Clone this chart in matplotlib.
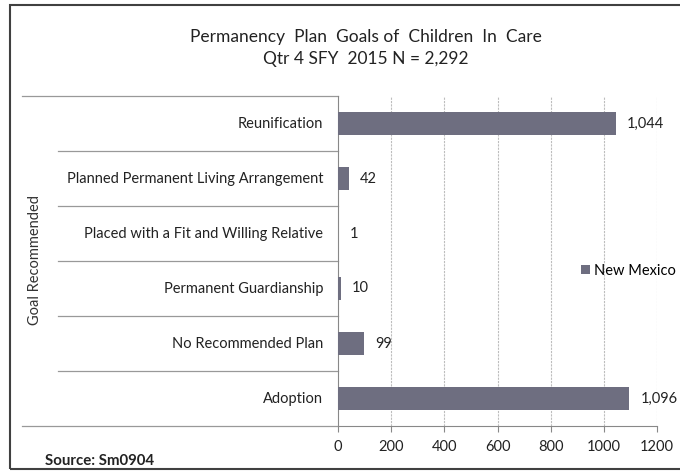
import matplotlib
matplotlib.use("Agg")
import matplotlib.pyplot as plt
from matplotlib.patches import Rectangle

categories = ["Reunification", "Planned Permanent Living Arrangement",
              "Placed with a Fit and Willing Relative", "Permanent Guardianship",
              "No Recommended Plan", "Adoption"]
values = [1044, 42, 1, 10, 99, 1096]
xticks = [0, 200, 400, 600, 800, 1000, 1200]
series_name = "New Mexico"
title = "Permanency  Plan  Goals of  Children  In  Care\nQtr 4 SFY  2015 N = 2,292"
ylabel = "Goal Recommended"
source = "Source: Sm0904"

plt.rcParams['font.family'] = ['Lato', 'DejaVu Sans']
W, H = 680, 471
fig = plt.figure(figsize=(W/100, H/100), dpi=100)
fig.patch.set_facecolor('white')

# border
fig.patches.append(Rectangle((10/W, 1-469/H), (W-8)/W, 464/H, transform=fig.transFigure,
                             fill=False, edgecolor='#404040', linewidth=1.5))

L, R, T, B = 338, 657, 96, 426
ax = fig.add_axes([L/W, 1-B/H, (R-L)/W, (B-T)/H])
color = '#6E6E80'
n = len(categories)
ypos = list(range(n))
ax.barh(ypos, values, height=0.43, color=color, label=series_name, zorder=3)
ax.set_ylim(n-0.5, -0.5)
ax.set_xlim(0, 1200)
ax.set_xticks(xticks)
ax.set_xticklabels([str(t) for t in xticks], fontsize=10.5, color='#222222')
ax.set_yticks([])
ax.tick_params(axis='x', length=4, color='#888888', pad=6)
for x in xticks[1:]:
    ax.axvline(x, color='#bdbdbd', linewidth=0.8, linestyle=(0, (2, 1)), zorder=1)
for s in ['top', 'right']:
    ax.spines[s].set_visible(False)
ax.spines['left'].set_color('#888888')
ax.spines['bottom'].set_color('#888888')

for i, v in enumerate(values):
    ax.annotate(f"{v:,}", (v, i), xytext=(8, 0), textcoords='offset points',
                va='center', ha='left', fontsize=10.5, color='#222222')

trans = ax.get_yaxis_transform()
for i, c in enumerate(categories):
    ax.text(-0.047, i, c, transform=trans, ha='right', va='center', fontsize=10.5, color='#222222')

# separators
xin = (58 - L) / (R - L)
xout = (22 - L) / (R - L)
for k in range(1, n):
    ax.plot([xin, 0], [k-0.5, k-0.5], transform=trans, color='#999999', lw=0.9, clip_on=False)
ax.plot([xout, 0], [-0.5, -0.5], transform=trans, color='#999999', lw=0.9, clip_on=False)
ax.plot([xout, 0], [n-0.5, n-0.5], transform=trans, color='#999999', lw=0.9, clip_on=False)

fig.text(35/W, 1-260/H, ylabel, rotation=90, ha='center', va='center', fontsize=10.5, color='#333333')
fig.text(366/W, 1-48/H, title, ha='center', va='center', fontsize=12.5, color='#222222', linespacing=1.4)
fig.text(45/W, 1-461/H, source, ha='left', va='center', fontsize=10.8, fontweight='bold', color='#222222')

ax.legend(loc='center left', bbox_to_anchor=((574-L)/(R-L), (B-271)/(B-T)), frameon=False,
          fontsize=10.5, handlelength=0.6, handleheight=0.6, handletextpad=0.3, borderpad=0)

fig.savefig("out.png", dpi=100)
